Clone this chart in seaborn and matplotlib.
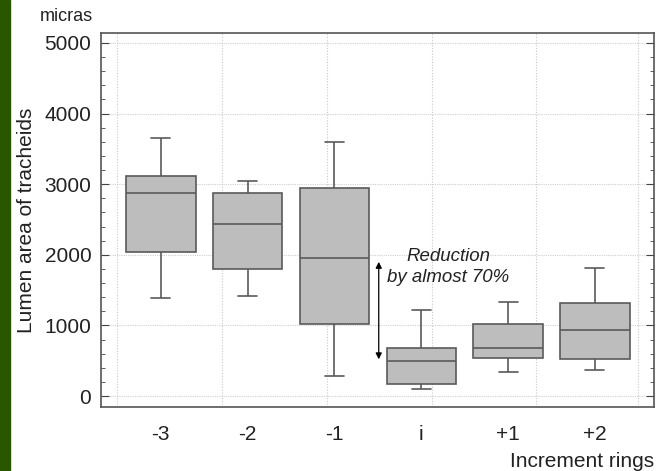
import numpy as np
import pandas as pd
import seaborn as sns
import matplotlib.pyplot as plt
from matplotlib.patches import Rectangle
from matplotlib.ticker import MultipleLocator

# --- 数据：每个年轮的五数概括 ---
rings = ['-3', '-2', '-1', 'i', '+1', '+2']
whisker_low = [1390, 1410, 290, 100, 340, 370]
q1 = [2040, 1800, 1020, 170, 540, 525]
median = [2880, 2430, 1950, 495, 680, 935]
q3 = [3120, 2870, 2940, 680, 1020, 1315]
whisker_high = [3660, 3050, 3590, 1215, 1330, 1820]


def build_frame():
    # 5 个点时，线性插值的四分位数正好落在 q1 / median / q3 上
    rows = []
    for i, ring in enumerate(rings):
        for v in (whisker_low[i], q1[i], median[i], q3[i], whisker_high[i]):
            rows.append({'ring': ring, 'value': v})
    return pd.DataFrame(rows)


def draw():
    df = build_frame()
    sns.set_style('white')
    plt.rcParams['font.family'] = ['Liberation Sans', 'DejaVu Sans']

    fig = plt.figure(figsize=(6.63, 4.71), dpi=100)
    ax = fig.add_axes([0.1523, 0.1359, 0.834, 0.794])

    sns.boxplot(data=df, x='ring', y='value', order=rings, ax=ax,
                whis=(0, 100), width=0.8, color='#bdbdbd', saturation=1,
                linecolor='#5a5a5a', linewidth=1.2, capwidths=0.22)

    ax.set_xlim(-0.69, 5.68)
    ax.set_ylim(-155, 5140)
    ax.set_yticks(range(0, 5001, 1000))
    ax.yaxis.set_minor_locator(MultipleLocator(200))

    # 奇怪的竖直网格线（原图里和箱子不对齐）
    grid_x = [-0.507, 0.703, 1.912, 3.122, 4.32, 5.50]
    ax.set_xticks(grid_x, minor=True)
    ax.grid(which='minor', axis='x', color='#c8c8c8', linestyle=(0, (1, 1.5)), lw=0.8)
    ax.grid(which='major', axis='y', color='#cfcfcf', linestyle=(0, (1, 1)), lw=0.8)
    ax.set_axisbelow(True)

    ax.tick_params(axis='x', which='both', length=0, pad=13, labelsize=15, colors='#222222')
    ax.tick_params(axis='y', which='both', direction='in', left=True, right=True,
                   labelsize=15, pad=7, colors='#444444', labelcolor='#222222')
    ax.tick_params(axis='y', which='major', length=6)
    ax.tick_params(axis='y', which='minor', length=3)

    for s in ax.spines.values():
        s.set_color('#555555')
        s.set_linewidth(1.2)

    ax.set_xlabel('Increment rings', loc='right', fontsize=15, labelpad=6, color='#222222')
    ax.set_ylabel('Lumen area of tracheids', fontsize=15, labelpad=6, color='#222222')

    # 标注：下降约 70%
    ax.annotate('', xy=(2.51, 520), xytext=(2.51, 1900),
                arrowprops=dict(arrowstyle='<|-|>', color='black', lw=0.9,
                                mutation_scale=9, shrinkA=0, shrinkB=0))
    ax.text(3.31, 1830, 'Reduction\nby almost 70%', style='italic', ha='center',
            va='center', fontsize=13.4, linespacing=1.3, color='#222222')

    fig.text(0.06, 0.964, 'micras', fontsize=13, va='center', color='#222222')

    # 左侧绿色边条
    fig.add_artist(Rectangle((0, 0), 10 / 663, 1, transform=fig.transFigure,
                             color='#2b5600', zorder=0))

    fig.savefig('out.png', dpi=100)


if __name__ == '__main__':
    draw()
